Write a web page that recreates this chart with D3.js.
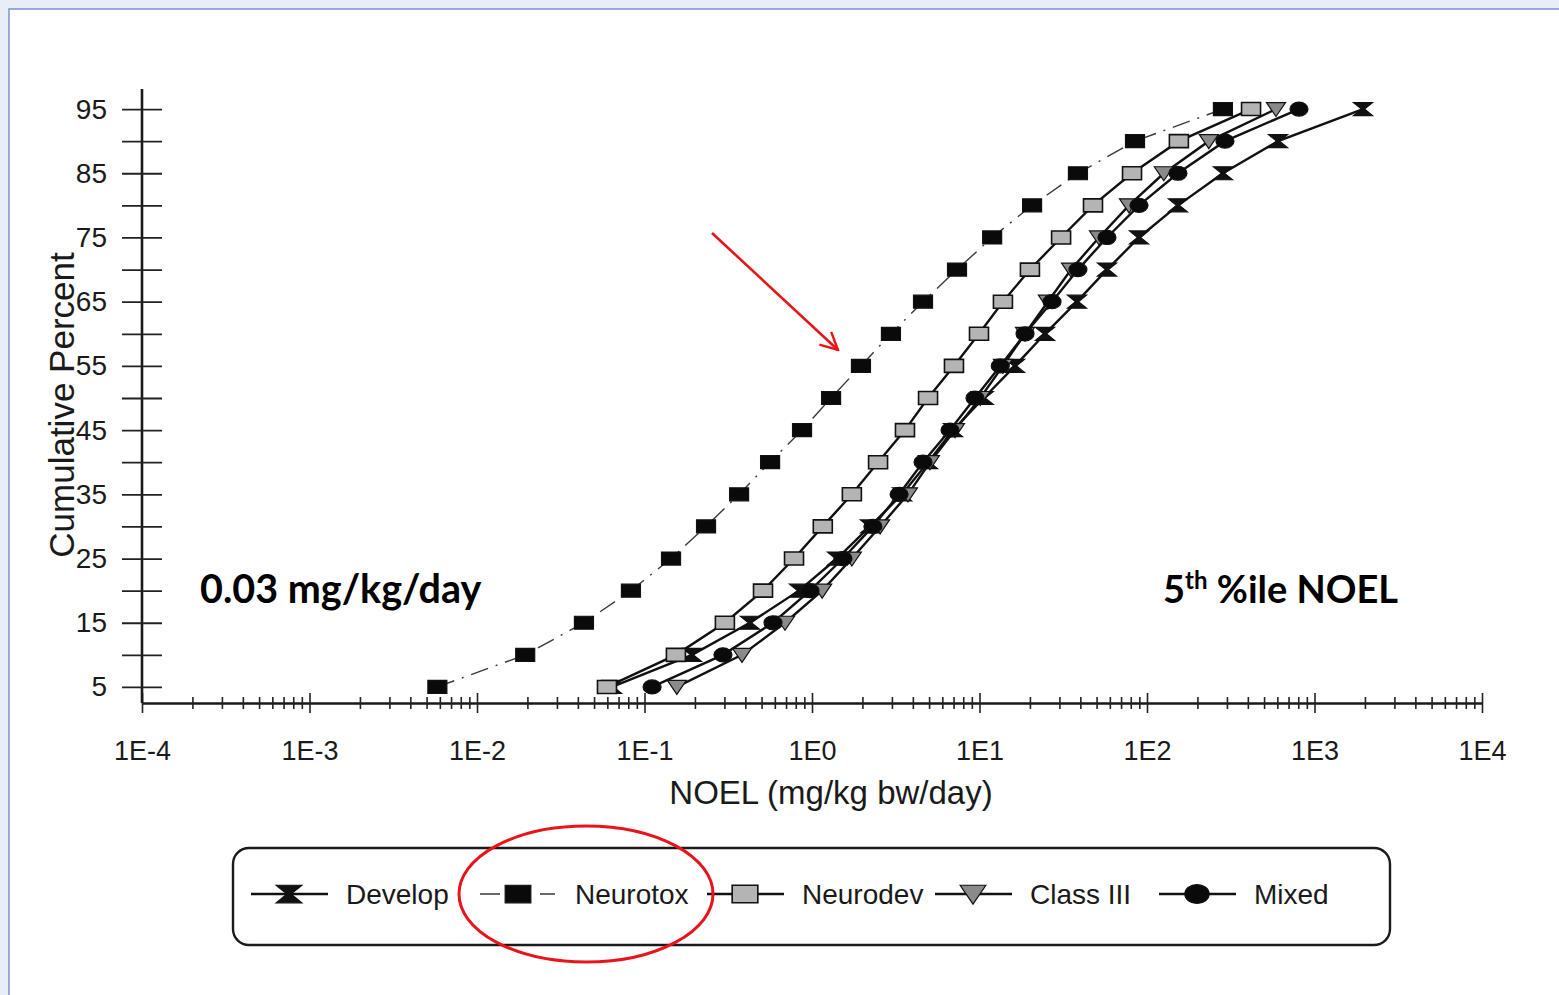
<!DOCTYPE html>
<html>
<head>
<meta charset="utf-8">
<script src="https://cdn.jsdelivr.net/npm/d3@7"></script>
<style>
  body { margin: 0; background: #e9eef6; overflow: hidden; }
  svg { display: block; }
</style>
</head>
<body>
<div id="chart"></div>
<script>
// ---- data: NOEL (mg/kg bw/day) at each cumulative percent ----
const percentiles = [5, 10, 15, 20, 25, 30, 35, 40, 45, 50, 55, 60, 65, 70, 75, 80, 85, 90, 95];

const develop  = [0.064, 0.192, 0.426, 0.836, 1.41, 2.22, 3.45, 4.93, 6.95, 10.6, 16.3, 24.6, 38.2, 57.7, 89.6, 153, 284, 606, 1948];
const neurotox = [0.0058, 0.0194, 0.0435, 0.083, 0.144, 0.233, 0.367, 0.562, 0.872, 1.30, 1.96, 2.96, 4.60, 7.34, 11.9, 20.6, 38.7, 84.8, 284];
const neurodev = [0.0597, 0.154, 0.302, 0.510, 0.781, 1.16, 1.73, 2.48, 3.59, 4.93, 7.04, 9.93, 13.8, 20.0, 30.7, 47.6, 81.4, 155, 418];
const classIII = [0.156, 0.382, 0.690, 1.15, 1.73, 2.55, 3.74, 5.06, 7.14, 10.1, 13.8, 18.7, 25.6, 35.2, 51.7, 78.1, 126, 234, 589];
const mixed    = [0.111, 0.294, 0.585, 0.973, 1.53, 2.31, 3.31, 4.60, 6.67, 9.40, 13.3, 18.7, 27.1, 38.7, 57.7, 89.6, 153, 292, 808];

const seriesNames = ["Develop", "Neurotox", "Neurodev", "Class III", "Mixed"];

const xTickValues = [1e-4, 1e-3, 1e-2, 1e-1, 1e0, 1e1, 1e2, 1e3, 1e4];
const xTickLabels = ["1E-4", "1E-3", "1E-2", "1E-1", "1E0", "1E1", "1E2", "1E3", "1E4"];
const yTickValues = [5, 10, 15, 20, 25, 30, 35, 40, 45, 50, 55, 60, 65, 70, 75, 80, 85, 90, 95];
const yTickLabels = ["5", "", "15", "", "25", "", "35", "", "45", "", "55", "", "65", "", "75", "", "85", "", "95"];

// ---- look of each series (marker + line) ----
const styles = {
    "Develop":   { marker: "hourglass", fill: "#111", line: "#111", width: 2.4, dash: null,       legendX: 251 },
    "Neurotox":  { marker: "square",    fill: "#0a0a0a", line: "#3a3a3a", width: 1.4, dash: "18,8,2,8", legendX: 480 },
    "Neurodev":  { marker: "square",    fill: "#b4b4b4", line: "#111", width: 2.4, dash: null,       legendX: 707 },
    "Class III": { marker: "triangle",  fill: "#8a8a8a", line: "#111", width: 2.4, dash: null,       legendX: 935 },
    "Mixed":     { marker: "circle",    fill: "#0a0a0a", line: "#111", width: 2.4, dash: null,       legendX: 1159 }
};

const values = [develop, neurotox, neurodev, classIII, mixed];
const series = seriesNames.map((name, i) => ({
    name: name,
    points: percentiles.map((p, j) => ({ p: p, v: values[i][j] }))
}));

const width = 1559;
const height = 995;
const font = "'Liberation Sans', Arial, sans-serif";

const svg = d3.select("#chart")
    .append("svg")
    .attr("width", width)
    .attr("height", height);

// slide frame
svg.append("rect")
    .attr("x", 9).attr("y", 9)
    .attr("width", width + 20).attr("height", height + 20)
    .attr("fill", "#fff")
    .attr("stroke", "#7d9ad3")
    .attr("stroke-width", 1.6);

const x = d3.scaleLog().domain([1e-4, 1e4]).range([142, 1482]);
const y = d3.scaleLinear().domain([2.5, 97.5]).range([703, 93]);

// ---- x axis (log, ticks crossing the line) ----
const isDecade = d => Number.isInteger(Math.round(Math.log10(d) * 1e6) / 1e6);

const xAxis = svg.append("g")
    .attr("transform", "translate(0," + y(2.5) + ")")
    .call(d3.axisBottom(x)
        .tickValues(x.ticks())
        .tickSize(7)
        .tickSizeOuter(0)
        .tickFormat(d => {
            const k = xTickValues.findIndex(v => Math.abs(Math.log10(v) - Math.log10(d)) < 1e-6);
            return k >= 0 ? xTickLabels[k] : "";
        }));

xAxis.select(".domain").attr("stroke", "#1a1a1a").attr("stroke-width", 2.6);
xAxis.selectAll(".tick line")
    .attr("stroke", "#222")
    .attr("stroke-width", 1.6)
    .attr("y1", d => isDecade(d) ? -10 : -6)
    .attr("y2", d => isDecade(d) ? 10 : 6);
xAxis.selectAll(".tick text")
    .attr("y", 57)
    .attr("dy", 0)
    .attr("fill", "#1a1a1a")
    .style("font-family", font)
    .style("font-size", "27px");

// ---- y axis ----
const yAxis = svg.append("g")
    .attr("transform", "translate(" + x(1e-4) + ",0)")
    .call(d3.axisLeft(y)
        .tickValues(yTickValues)
        .tickSize(20)
        .tickSizeOuter(0)
        .tickPadding(15)
        .tickFormat((d, i) => yTickLabels[i]));

yAxis.select(".domain")
    .attr("d", "M0," + (y(97.5) - 4) + "V" + y(2.5))
    .attr("stroke", "#1a1a1a")
    .attr("stroke-width", 2.6);
yAxis.selectAll(".tick line")
    .attr("x1", 20)
    .attr("stroke", "#222")
    .attr("stroke-width", 1.8);
yAxis.selectAll(".tick text")
    .attr("fill", "#1a1a1a")
    .style("font-family", font)
    .style("font-size", "28px");

// axis titles
svg.append("text")
    .attr("x", 831).attr("y", 804)
    .attr("text-anchor", "middle")
    .attr("fill", "#1a1a1a")
    .style("font-family", font)
    .style("font-size", "33px")
    .text("NOEL (mg/kg bw/day)");

svg.append("text")
    .attr("transform", "translate(74,405) rotate(-90)")
    .attr("text-anchor", "middle")
    .attr("fill", "#1a1a1a")
    .style("font-family", font)
    .style("font-size", "35px")
    .text("Cumulative Percent");

// ---- markers ----
function markerPath(type, s) {
    const w = 9.5 * s, h = 6.5 * s;
    if (type === "hourglass") {
        return "M" + (-w) + "," + (-h) + "H" + w + "L" + (1.5 * s) + ",0L" + w + "," + h +
               "H" + (-w) + "L" + (-1.5 * s) + ",0Z";
    }
    if (type === "square") {
        return "M" + (-w) + "," + (-h) + "H" + w + "V" + h + "H" + (-w) + "Z";
    }
    if (type === "triangle") {
        return "M" + (-w) + "," + (-h) + "H" + w + "L0," + (h + 1 * s) + "Z";
    }
    // circle / ellipse
    const rx = 9 * s, ry = 7 * s;
    return "M" + (-rx) + ",0A" + rx + "," + ry + " 0 1,0 " + rx + ",0A" + rx + "," + ry + " 0 1,0 " + (-rx) + ",0Z";
}

function drawMarker(g, name, cx, cy, s) {
    const st = styles[name];
    g.append("path")
        .attr("d", markerPath(st.marker, s))
        .attr("transform", "translate(" + cx + "," + cy + ")")
        .attr("fill", st.fill)
        .attr("stroke", "#111")
        .attr("stroke-width", name === "Neurodev" ? 1.6 : 1.2);
}

// ---- lines + markers ----
const line = d3.line()
    .x(d => x(d.v))
    .y(d => y(d.p));

const plot = svg.append("g");

series.forEach(s => {
    const st = styles[s.name];
    plot.append("path")
        .datum(s.points)
        .attr("d", line)
        .attr("fill", "none")
        .attr("stroke", st.line)
        .attr("stroke-width", st.width)
        .attr("stroke-dasharray", st.dash);
});

series.forEach(s => {
    const g = plot.append("g");
    s.points.forEach(d => drawMarker(g, s.name, x(d.v), y(d.p), 1));
});

// ---- legend ----
const legend = svg.append("g");
legend.append("rect")
    .attr("x", 233).attr("y", 848)
    .attr("width", 1157).attr("height", 97)
    .attr("rx", 16)
    .attr("fill", "none")
    .attr("stroke", "#1a1a1a")
    .attr("stroke-width", 2.4);

seriesNames.forEach(name => {
    const st = styles[name];
    const lx = st.legendX;
    const ly = 894;
    legend.append("line")
        .attr("x1", lx).attr("x2", lx + 77)
        .attr("y1", ly).attr("y2", ly)
        .attr("stroke", st.line)
        .attr("stroke-width", name === "Neurotox" ? 1.4 : 2.4)
        .attr("stroke-dasharray", name === "Neurotox" ? "20,40,15" : null);
    drawMarker(legend, name, lx + 38, ly, 1.35);
    legend.append("text")
        .attr("x", lx + 95)
        .attr("y", ly + 10)
        .attr("fill", "#1a1a1a")
        .style("font-family", font)
        .style("font-size", "28px")
        .text(name);
});

// ---- slide annotations ----
const boldFont = "Lato, 'Open Sans', sans-serif";
svg.append("text")
    .attr("x", 200).attr("y", 603)
    .attr("fill", "#000")
    .style("font-family", boldFont)
    .style("font-weight", "bold")
    .style("font-size", "39.5px")
    .text("0.03 mg/kg/day");

const fifth = svg.append("text")
    .attr("x", 1163).attr("y", 603)
    .attr("fill", "#000")
    .style("font-family", boldFont)
    .style("font-weight", "bold")
    .style("font-size", "38px");
fifth.append("tspan").text("5");
fifth.append("tspan").attr("dy", -14).style("font-size", "24px").text("th");
fifth.append("tspan").attr("dy", 14).text(" %ile NOEL");

// red arrow
svg.append("defs").append("marker")
    .attr("id", "arrowhead")
    .attr("viewBox", "0 0 12 12")
    .attr("refX", 11).attr("refY", 6)
    .attr("markerWidth", 8).attr("markerHeight", 8)
    .attr("markerUnits", "strokeWidth")
    .attr("orient", "auto")
    .append("path")
    .attr("d", "M1,1 L11,6 L1,11")
    .attr("fill", "none")
    .attr("stroke", "#e8141a")
    .attr("stroke-width", 1.4);

svg.append("line")
    .attr("x1", 712).attr("y1", 233)
    .attr("x2", 838).attr("y2", 350)
    .attr("stroke", "#e8141a")
    .attr("stroke-width", 2.6)
    .attr("marker-end", "url(#arrowhead)");

// red ellipse around the Neurotox legend entry
svg.append("ellipse")
    .attr("cx", 586).attr("cy", 894)
    .attr("rx", 127).attr("ry", 68)
    .attr("fill", "none")
    .attr("stroke", "#e8141a")
    .attr("stroke-width", 3);
</script>
</body>
</html>
